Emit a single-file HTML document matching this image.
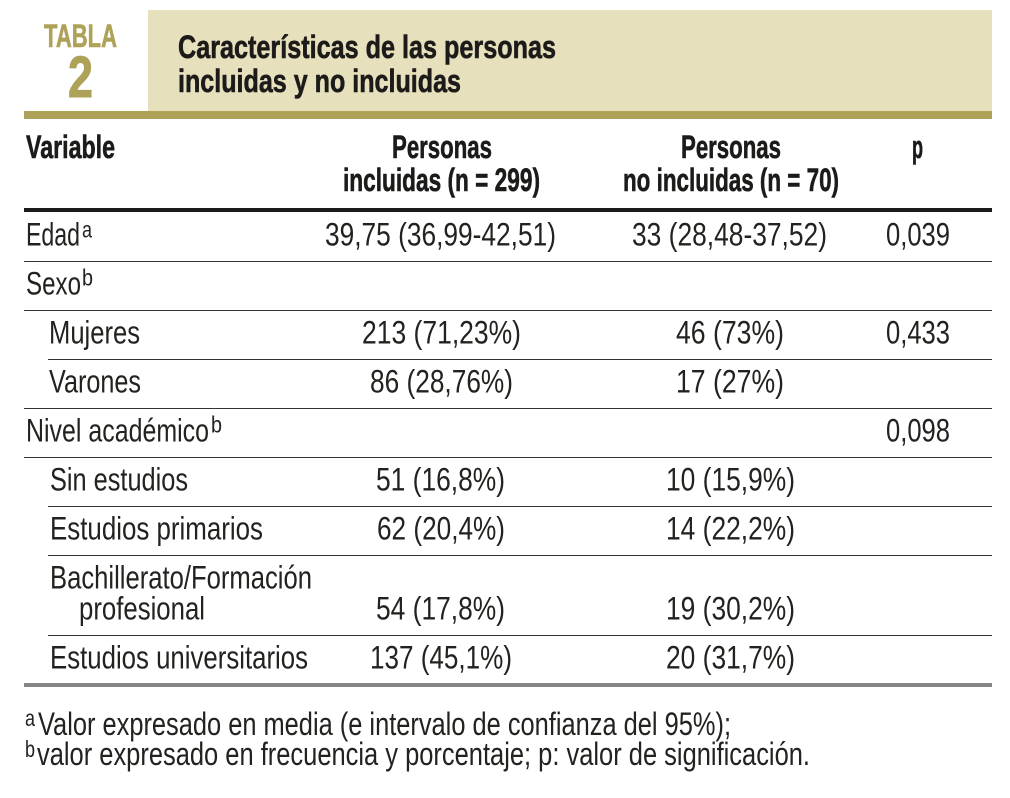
<!DOCTYPE html>
<html lang="es">
<head>
<meta charset="utf-8">
<title>Tabla 2</title>
<style>
html,body{margin:0;padding:0;background:#fff}
svg{display:block}
text{font-family:"Liberation Sans",sans-serif;fill:#23221f;font-size:32px}
.b{font-weight:bold;fill:#1c1b19;stroke:#1c1b19;stroke-width:.6px}
.s{font-size:23px}
</style>
</head>
<body>
<svg xmlns="http://www.w3.org/2000/svg" width="1010" height="798" viewBox="0 0 1010 798">
<rect x="148" y="10" width="844" height="101" fill="#e6e0bd"/>
<rect x="24" y="111" width="968" height="8" fill="#aea258"/>
<rect x="24" y="208" width="968" height="4" fill="#1c1b19"/>
<rect x="24" y="261" width="968" height="1" fill="#333"/>
<rect x="24" y="310" width="968" height="1" fill="#333"/>
<rect x="48" y="359" width="944" height="1" fill="#333"/>
<rect x="24" y="408" width="968" height="1" fill="#333"/>
<rect x="24" y="457" width="968" height="1" fill="#333"/>
<rect x="48" y="506" width="944" height="1" fill="#333"/>
<rect x="48" y="555" width="944" height="1" fill="#333"/>
<rect x="48" y="635" width="944" height="1" fill="#333"/>
<rect x="24" y="683" width="968" height="4" fill="#858585"/>

<g>
<text class="b" style="fill:#aea258;stroke:#aea258;font-size:32px" x="44" y="47" textLength="73" lengthAdjust="spacingAndGlyphs">TABLA</text>
<text class="b" style="fill:#aea258;stroke:#aea258;stroke-width:1px;font-size:58px" x="68" y="97" textLength="25" lengthAdjust="spacingAndGlyphs">2</text>
</g>
<g>
<text class="b" x="178" y="58" textLength="378" lengthAdjust="spacingAndGlyphs">Características de las personas</text>
<text class="b" x="178" y="92" textLength="283" lengthAdjust="spacingAndGlyphs">incluidas y no incluidas</text>
</g>

<g>
<text class="b" x="26" y="158" textLength="89" lengthAdjust="spacingAndGlyphs">Variable</text>
<text class="b" x="392" y="158" textLength="100" lengthAdjust="spacingAndGlyphs">Personas</text>
<text class="b" x="343" y="191" textLength="197" lengthAdjust="spacingAndGlyphs">incluidas (n = 299)</text>
<text class="b" x="681" y="158" textLength="100" lengthAdjust="spacingAndGlyphs">Personas</text>
<text class="b" x="623" y="191" textLength="216" lengthAdjust="spacingAndGlyphs">no incluidas (n = 70)</text>
<text class="b" x="912" y="158" textLength="11" lengthAdjust="spacingAndGlyphs">p</text>
</g>

<g transform="translate(0,0.7)">
<g>
<text x="26" y="245" textLength="54" lengthAdjust="spacingAndGlyphs">Edad</text>
<text class="s" x="82" y="237" textLength="10" lengthAdjust="spacingAndGlyphs">a</text>
<text x="325" y="245" textLength="231" lengthAdjust="spacingAndGlyphs">39,75 (36,99-42,51)</text>
<text x="632" y="245" textLength="195" lengthAdjust="spacingAndGlyphs">33 (28,48-37,52)</text>
<text x="886" y="245" textLength="64" lengthAdjust="spacingAndGlyphs">0,039</text>
</g>
<g>
<text x="26" y="294" textLength="55" lengthAdjust="spacingAndGlyphs">Sexo</text>
<text class="s" x="82" y="285" textLength="11" lengthAdjust="spacingAndGlyphs">b</text>
</g>
<g>
<text x="49" y="343" textLength="91" lengthAdjust="spacingAndGlyphs">Mujeres</text>
<text x="362" y="343" textLength="159" lengthAdjust="spacingAndGlyphs">213 (71,23%)</text>
<text x="676" y="343" textLength="108" lengthAdjust="spacingAndGlyphs">46 (73%)</text>
<text x="886" y="343" textLength="64" lengthAdjust="spacingAndGlyphs">0,433</text>
</g>
<g>
<text x="49" y="392" textLength="92" lengthAdjust="spacingAndGlyphs">Varones</text>
<text x="370" y="392" textLength="143" lengthAdjust="spacingAndGlyphs">86 (28,76%)</text>
<text x="676" y="392" textLength="108" lengthAdjust="spacingAndGlyphs">17 (27%)</text>
</g>
<g>
<text x="26" y="441" textLength="183" lengthAdjust="spacingAndGlyphs">Nivel académico</text>
<text class="s" x="211" y="432" textLength="11" lengthAdjust="spacingAndGlyphs">b</text>
<text x="886" y="441" textLength="64" lengthAdjust="spacingAndGlyphs">0,098</text>
</g>
<g>
<text x="50" y="490" textLength="138" lengthAdjust="spacingAndGlyphs">Sin estudios</text>
<text x="376" y="490" textLength="129" lengthAdjust="spacingAndGlyphs">51 (16,8%)</text>
<text x="666" y="490" textLength="129" lengthAdjust="spacingAndGlyphs">10 (15,9%)</text>
</g>
<g>
<text x="50" y="539" textLength="213" lengthAdjust="spacingAndGlyphs">Estudios primarios</text>
<text x="377" y="539" textLength="128" lengthAdjust="spacingAndGlyphs">62 (20,4%)</text>
<text x="666" y="539" textLength="129" lengthAdjust="spacingAndGlyphs">14 (22,2%)</text>
</g>
<g>
<text x="50" y="588" textLength="262" lengthAdjust="spacingAndGlyphs">Bachillerato/Formación</text>
<text x="79" y="619" textLength="126" lengthAdjust="spacingAndGlyphs">profesional</text>
<text x="376" y="619" textLength="129" lengthAdjust="spacingAndGlyphs">54 (17,8%)</text>
<text x="666" y="619" textLength="129" lengthAdjust="spacingAndGlyphs">19 (30,2%)</text>
</g>
<g>
<text x="50" y="668" textLength="258" lengthAdjust="spacingAndGlyphs">Estudios universitarios</text>
<text x="370" y="668" textLength="142" lengthAdjust="spacingAndGlyphs">137 (45,1%)</text>
<text x="666" y="668" textLength="129" lengthAdjust="spacingAndGlyphs">20 (31,7%)</text>
</g>
</g>

<g>
<text class="s" x="25" y="726" textLength="10" lengthAdjust="spacingAndGlyphs">a</text>
<text x="38" y="735" textLength="693" lengthAdjust="spacingAndGlyphs">Valor expresado en media (e intervalo de confianza del 95%);</text>
<text class="s" x="25" y="757" textLength="10" lengthAdjust="spacingAndGlyphs">b</text>
<text x="37" y="765" textLength="773" lengthAdjust="spacingAndGlyphs">valor expresado en frecuencia y porcentaje; p: valor de significación.</text>
</g>
</svg>
</body>
</html>
